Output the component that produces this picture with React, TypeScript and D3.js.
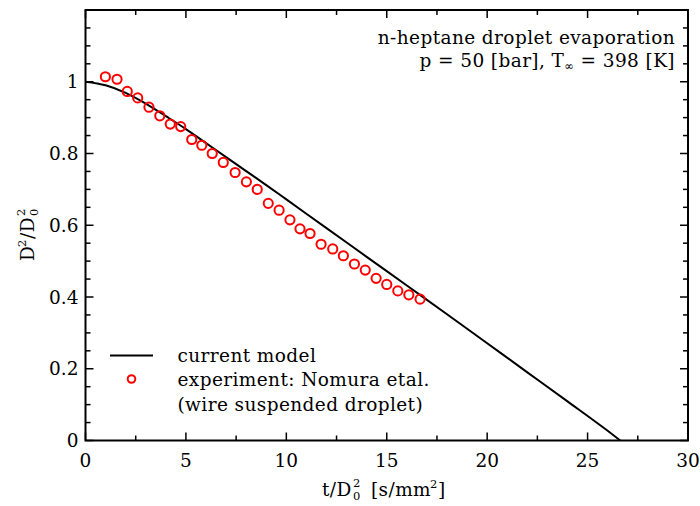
import React from "react";
import * as d3 from "d3";

const modelT = [0, 1, 2, 3, 4, 5, 6, 7, 8, 9, 10, 12, 14, 16, 18, 20, 22, 24, 26, 26.63];
const modelD2 = [1.0, 0.99, 0.969, 0.939, 0.904, 0.868, 0.829, 0.79, 0.751, 0.712, 0.672, 0.592, 0.512, 0.432, 0.352, 0.271, 0.19, 0.109, 0.027, 0.0];

const expT = [0.99, 1.57, 2.08, 2.6, 3.16, 3.7, 4.22, 4.74, 5.29, 5.79, 6.31, 6.86, 7.45, 8.01, 8.55, 9.1, 9.64, 10.18, 10.68, 11.18, 11.73, 12.31, 12.84, 13.39, 13.93, 14.47, 15.0, 15.55, 16.1, 16.66];
const expD2 = [1.014, 1.007, 0.973, 0.955, 0.929, 0.905, 0.882, 0.875, 0.839, 0.823, 0.8, 0.775, 0.747, 0.721, 0.7, 0.661, 0.642, 0.615, 0.59, 0.577, 0.547, 0.534, 0.515, 0.492, 0.475, 0.452, 0.435, 0.417, 0.406, 0.394];

const xMajor = [0, 5, 10, 15, 20, 25, 30];
const xMinor = [2.5, 7.5, 12.5, 17.5, 22.5, 27.5];
const yMajor = [0, 0.2, 0.4, 0.6, 0.8, 1.0, 1.2];
const yLabels = ["0", "0.2", "0.4", "0.6", "0.8", "1", ""];
const yMinor = d3.range(0, 24).map((i) => i * 0.05).filter((v) => Math.abs(v * 5 - Math.round(v * 5)) > 1e-6);

const titleLines = ["n-heptane droplet evaporation"];
const legendLabels = ["current model", "experiment: Nomura etal.", "(wire suspended droplet)"];

const FONT = "'DejaVu Serif', serif";

export default function App() {
  const W = 700, H = 506;
  const L = 85.5, R = 688, T = 10, B = 440.5;
  const x = d3.scaleLinear().domain([0, 30]).range([L, R]);
  const y = d3.scaleLinear().domain([0, 1.2]).range([B, T]);
  const line = d3.line<number>().x((_, i) => x(modelT[i])).y((d) => y(d)).curve(d3.curveMonotoneX);
  const fs = 18.5;
  const ls = 0.4;
  const sfs = 11.5;
  return (
    <svg width={W} height={H} style={{ position: "absolute", left: 0, top: 0, background: "#fff" }} fontFamily={FONT}>
      <rect x={0} y={0} width={W} height={H} fill="#fff" />
      <defs>
        <clipPath id="clip">
          <rect x={L} y={T} width={R - L} height={B - T} />
        </clipPath>
      </defs>
      {/* ticks */}
      <g stroke="#000" strokeWidth={1.5}>
        {xMajor.map((v) => (
          <g key={"xM" + v}>
            <line x1={x(v)} x2={x(v)} y1={B} y2={B - 8} />
            <line x1={x(v)} x2={x(v)} y1={T} y2={T + 8} />
          </g>
        ))}
        {xMinor.map((v) => (
          <g key={"xm" + v}>
            <line x1={x(v)} x2={x(v)} y1={B} y2={B - 5} />
            <line x1={x(v)} x2={x(v)} y1={T} y2={T + 5} />
          </g>
        ))}
        {yMajor.map((v) => (
          <g key={"yM" + v}>
            <line x1={L} x2={L + 8} y1={y(v)} y2={y(v)} />
            <line x1={R} x2={R - 8} y1={y(v)} y2={y(v)} />
          </g>
        ))}
        {yMinor.map((v) => (
          <g key={"ym" + v}>
            <line x1={L} x2={L + 5} y1={y(v)} y2={y(v)} />
            <line x1={R} x2={R - 5} y1={y(v)} y2={y(v)} />
          </g>
        ))}
      </g>
      <rect x={L} y={T} width={R - L} height={B - T} fill="none" stroke="#000" strokeWidth={2} />
      {/* tick labels */}
      <g fontSize={fs} fill="#000">
        {xMajor.map((v) => (
          <text key={"xl" + v} x={x(v)} y={B + 26} textAnchor="middle">{v}</text>
        ))}
        {yMajor.map((v, i) => (
          <text key={"yl" + v} x={L - 7} y={y(v) + 6.5} textAnchor="end">{yLabels[i]}</text>
        ))}
      </g>
      {/* data */}
      <g clipPath="url(#clip)">
        <path d={line(modelD2) || ""} fill="none" stroke="#000" strokeWidth={2} />
        {expD2.map((d, i) => (
          <circle key={"c" + i} cx={x(expT[i])} cy={y(d)} r={4.6} fill="none" stroke="#ff0000" strokeWidth={2} />
        ))}
      </g>
      {/* title */}
      <g fontSize={fs} fill="#000" textAnchor="end" letterSpacing={ls}>
        <text x={675} y={44}>{titleLines[0]}</text>
        <text x={675} y={67}>
          p = 50 [bar], T<tspan fontSize={sfs} dy={3}>∞</tspan><tspan dy={-3}> = 398 [K]</tspan>
        </text>
      </g>
      {/* legend */}
      <g fontSize={fs} fill="#000" letterSpacing={ls}>
        <line x1={110} x2={153} y1={355.5} y2={355.5} stroke="#000" strokeWidth={2} />
        <circle cx={131.5} cy={379} r={3.8} fill="none" stroke="#ff0000" strokeWidth={2} />
        <text x={177.5} y={361.5}>{legendLabels[0]}</text>
        <text x={177.5} y={386}>{legendLabels[1]}</text>
        <text x={177.5} y={410.5}>{legendLabels[2]}</text>
      </g>
      {/* axis titles */}
      <g fontSize={fs} fill="#000" letterSpacing={ls}>
        <text x={322} y={496}>t/D</text>
        <text x={353} y={500} fontSize={sfs}>0</text>
        <text x={353} y={487} fontSize={sfs}>2</text>
        <text x={371} y={496}>[s/mm</text>
        <text x={430} y={488} fontSize={sfs}>2</text>
        <text x={438} y={496}>]</text>
      </g>
      <g transform="translate(34,196) rotate(-90)" fontSize={fs} fill="#000" letterSpacing={ls}>
        <text x={-65} y={0}>D</text>
        <text x={-51} y={-8} fontSize={sfs}>2</text>
        <text x={-43} y={0}>/D</text>
        <text x={-20} y={4} fontSize={sfs}>0</text>
        <text x={-20} y={-9} fontSize={sfs}>2</text>
      </g>
    </svg>
  );
}
